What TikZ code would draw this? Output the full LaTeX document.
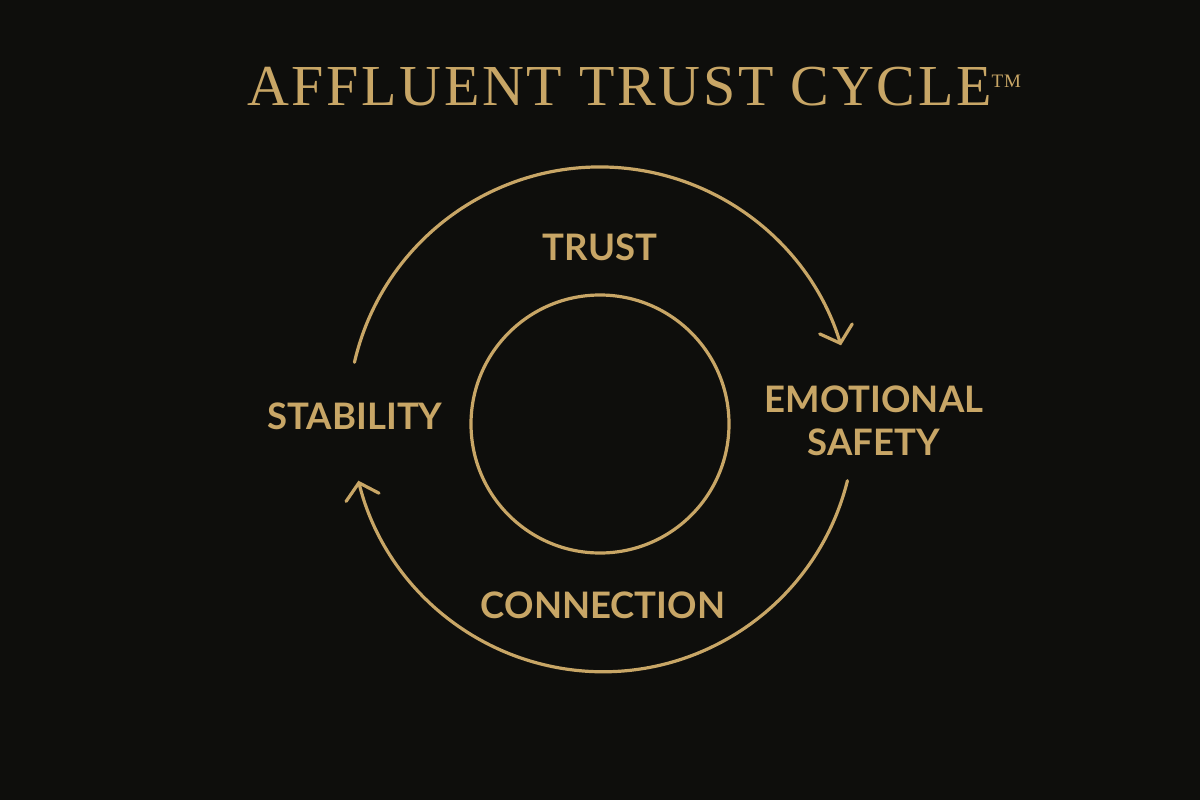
\documentclass[tikz,border=0pt]{standalone}
\usepackage{fontspec}
\setmainfont{Liberation Serif}
\newfontfamily\labelfont{Lato}
\usetikzlibrary{arrows.meta,calc}
\definecolor{bg}{RGB}{14,14,12}
\definecolor{gold}{RGB}{200,166,102}
\tikzset{
  cyclearrow/.style={draw=gold, line width=3.2pt, line cap=round,
    -{Straight Barb[length=15pt,width=34pt,line width=3.2pt,line cap=round]}},
  lbl/.style={text=gold, font=\labelfont\bfseries\fontsize{36.5}{43}\selectfont, align=center, inner sep=0pt},
}
\begin{document}
\begin{tikzpicture}[x=1pt,y=-1pt]
\useasboundingbox (0,0) rectangle (1200,800);
\fill[bg] (0,0) rectangle (1200,800);
\node[text=gold, inner sep=0pt, anchor=base] (title) at (634,106)
  {\fontspec{Liberation Serif}[LetterSpace=4.6]\fontsize{58}{60}\selectfont AFFLUENT TRUST CYCLE\raisebox{18pt}{\fontsize{19}{19}\selectfont TM}};
\coordinate (c) at (600,419);
\node[draw=gold, line width=3.2pt, circle, minimum size=258pt, inner sep=0pt] (inner) at (600,424) {};
\coordinate (topstart) at ($(c)+(-167:252)$);
\coordinate (botstart) at ($(c)+(14:255)$);
\draw[cyclearrow] (topstart) arc[start angle=-167, end angle=-17, radius=252];
\draw[cyclearrow] (botstart) arc[start angle=14, end angle=166, radius=252];
\node[lbl] (trust) at (600,247) {TRUST};
\node[lbl] (stab) at (355,416) {STABILITY};
\node[lbl] (emo) at (874,421) {EMOTIONAL\\SAFETY};
\node[lbl] (conn) at (603,605) {CONNECTION};
\end{tikzpicture}
\end{document}
